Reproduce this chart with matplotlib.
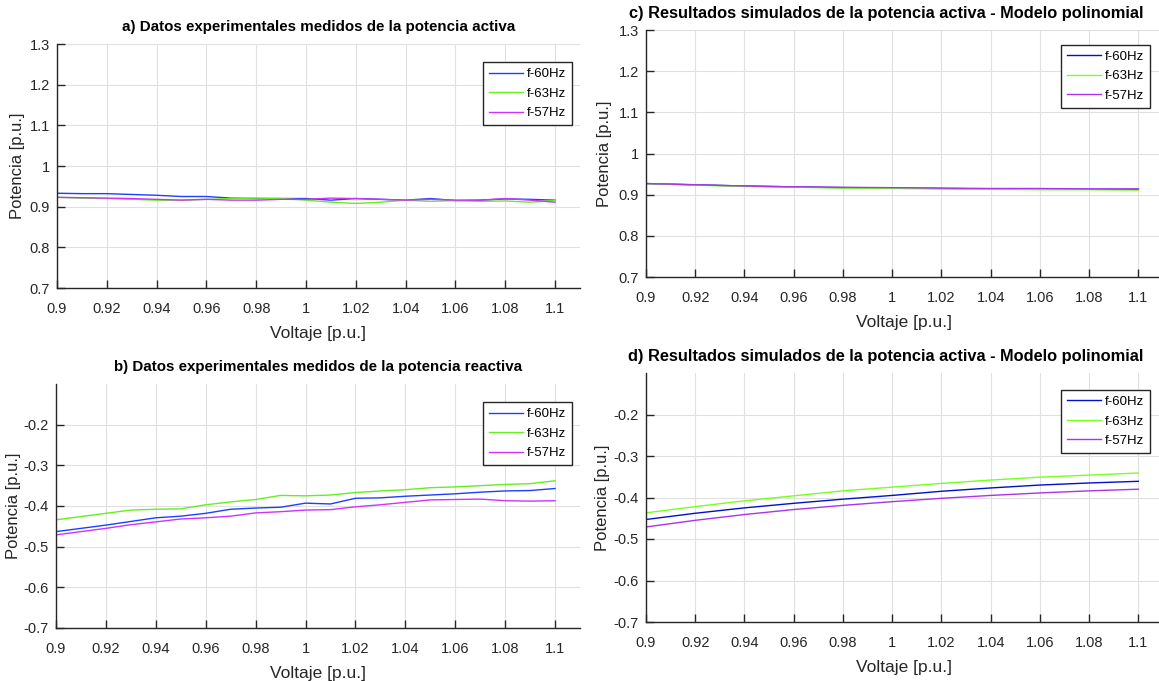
import matplotlib
matplotlib.use("Agg")
import matplotlib.pyplot as plt

plt.rcParams['font.family'] = ['Liberation Sans', 'DejaVu Sans']

# measured data (step 0.01)
v_meas = [0.90, 0.91, 0.92, 0.93, 0.94, 0.95, 0.96, 0.97, 0.98, 0.99, 1.00,
          1.01, 1.02, 1.03, 1.04, 1.05, 1.06, 1.07, 1.08, 1.09, 1.10]
p60 = [0.933, 0.932, 0.932, 0.930, 0.928, 0.925, 0.925, 0.921, 0.920, 0.920, 0.920,
       0.916, 0.920, 0.918, 0.916, 0.920, 0.915, 0.916, 0.919, 0.918, 0.916]
p63 = [0.923, 0.921, 0.920, 0.918, 0.916, 0.916, 0.918, 0.920, 0.921, 0.920, 0.916,
       0.911, 0.908, 0.911, 0.916, 0.913, 0.915, 0.913, 0.914, 0.911, 0.915]
p57 = [0.923, 0.922, 0.921, 0.920, 0.918, 0.916, 0.918, 0.916, 0.916, 0.918, 0.918,
       0.921, 0.920, 0.918, 0.916, 0.918, 0.916, 0.916, 0.920, 0.916, 0.911]
q60 = [-0.463, -0.455, -0.447, -0.438, -0.429, -0.425, -0.418, -0.408, -0.405, -0.403, -0.393,
       -0.395, -0.381, -0.380, -0.376, -0.373, -0.370, -0.366, -0.363, -0.362, -0.357]
q63 = [-0.434, -0.426, -0.418, -0.410, -0.408, -0.407, -0.397, -0.390, -0.384, -0.374, -0.375,
       -0.373, -0.367, -0.363, -0.360, -0.355, -0.353, -0.350, -0.347, -0.345, -0.338]
q57 = [-0.471, -0.463, -0.455, -0.446, -0.439, -0.432, -0.429, -0.425, -0.417, -0.414, -0.410,
       -0.409, -0.402, -0.397, -0.391, -0.385, -0.384, -0.383, -0.387, -0.388, -0.387]

# simulated data (polynomial model, step 0.02)
v_sim = [0.90, 0.92, 0.94, 0.96, 0.98, 1.00, 1.02, 1.04, 1.06, 1.08, 1.10]
ps60 = [0.927, 0.924, 0.921, 0.919, 0.917, 0.916, 0.915, 0.914, 0.914, 0.913, 0.913]
ps63 = [0.927, 0.923, 0.920, 0.918, 0.916, 0.915, 0.914, 0.913, 0.912, 0.912, 0.911]
ps57 = [0.927, 0.924, 0.921, 0.919, 0.918, 0.917, 0.916, 0.915, 0.915, 0.914, 0.914]
qs60 = [-0.453, -0.438, -0.425, -0.414, -0.404, -0.395, -0.385, -0.377, -0.370, -0.365, -0.361]
qs63 = [-0.437, -0.422, -0.408, -0.396, -0.384, -0.375, -0.366, -0.358, -0.351, -0.346, -0.341]
qs57 = [-0.471, -0.455, -0.441, -0.429, -0.419, -0.410, -0.402, -0.395, -0.389, -0.384, -0.380]

labels = ['f-60Hz', 'f-63Hz', 'f-57Hz']
col_a = ['#1f3fff', '#66ee22', '#cc33ff']
col_s = ['#0010cc', '#77ff22', '#aa33ee']
xticks = [0.9, 0.92, 0.94, 0.96, 0.98, 1.0, 1.02, 1.04, 1.06, 1.08, 1.1]
xtl = ['0.9', '0.92', '0.94', '0.96', '0.98', '1', '1.02', '1.04', '1.06', '1.08', '1.1']

titles = ['a) Datos experimentales medidos de la potencia activa',
          'b) Datos experimentales medidos de la potencia reactiva',
          'c) Resultados simulados de la potencia activa - Modelo polinomial',
          'd) Resultados simulados de la potencia activa - Modelo polinomial']

W, H = 1159, 681
fig = plt.figure(figsize=(W / 100, H / 100), dpi=100)

def px(l, r, t, b):
    return [l / W, 1 - b / H, (r - l) / W, (b - t) / H]

axa = fig.add_axes(px(57, 580, 44, 288))
axb = fig.add_axes(px(56, 580, 384, 628))
axc = fig.add_axes(px(646, 1163, 30, 277))
axd = fig.add_axes(px(646, 1163, 373, 622))

def style(ax, title, tsize, ylim, yticks, ytl, tx, ylx, leg_y, leg_x):
    ax.set_xlim(0.9, 1.11)
    ax.set_ylim(*ylim)
    ax.set_xticks(xticks)
    ax.set_xticklabels(xtl)
    ax.set_yticks(yticks)
    ax.set_yticklabels(ytl)
    for s in ['top', 'right']:
        ax.spines[s].set_visible(False)
    for s in ['left', 'bottom']:
        ax.spines[s].set_color('#262626')
        ax.spines[s].set_linewidth(1.0)
    ax.tick_params(direction='in', length=6, width=1, colors='#262626',
                   labelsize=10.5)
    ax.tick_params(axis='x', pad=10)
    ax.tick_params(axis='y', pad=5)
    ax.grid(True, color='#e0e0e0', linewidth=0.8)
    ax.set_axisbelow(True)
    ax.set_title(title, fontsize=tsize, fontweight='bold', x=tx, pad=9)
    ax.set_xlabel('Voltaje [p.u.]', fontsize=12.5, color='#262626', labelpad=7)
    ax.set_ylabel('Potencia [p.u.]', fontsize=12, color='#262626')
    ax.yaxis.set_label_coords(ylx, 0.5)
    ax.legend(loc='upper right', bbox_to_anchor=(leg_x, leg_y), fontsize=9.5,
              fancybox=False, framealpha=1, edgecolor='#262626',
              handlelength=2.6, handletextpad=0.3, borderpad=0.45,
              labelspacing=0.55, borderaxespad=0)
    ax.get_legend().get_frame().set_linewidth(1.0)

p_ticks = [0.7, 0.8, 0.9, 1.0, 1.1, 1.2, 1.3]
p_tl = ['0.7', '0.8', '0.9', '1', '1.1', '1.2', '1.3']
q_ticks = [-0.7, -0.6, -0.5, -0.4, -0.3, -0.2]
q_tl = ['-0.7', '-0.6', '-0.5', '-0.4', '-0.3', '-0.2']

for ys, c, lab in zip([p60, p63, p57], col_a, labels):
    axa.plot(v_meas, ys, color=c, lw=1.0, label=lab)
style(axa, titles[0], 10.9, (0.7, 1.3), p_ticks, p_tl, 0.5, -0.061, 0.926, 0.985)

for ys, c, lab in zip([q60, q63, q57], col_a, labels):
    axb.plot(v_meas, ys, color=c, lw=1.0, label=lab)
style(axb, titles[1], 10.9, (-0.7, -0.1), q_ticks, q_tl, 0.5, -0.066, 0.926, 0.985)

for ys, c, lab in zip([ps60, ps63, ps57], col_s, labels):
    axc.plot(v_sim, ys, color=c, lw=1.0, label=lab)
style(axc, titles[2], 11.8, (0.7, 1.3), p_ticks, p_tl, 0.464, -0.066, 0.94, 0.975)

for ys, c, lab in zip([qs60, qs63, qs57], col_s, labels):
    axd.plot(v_sim, ys, color=c, lw=1.0, label=lab)
style(axd, titles[3], 11.8, (-0.7, -0.1), q_ticks, q_tl, 0.464, -0.07, 0.932, 0.975)

fig.savefig('out.png', dpi=100)
